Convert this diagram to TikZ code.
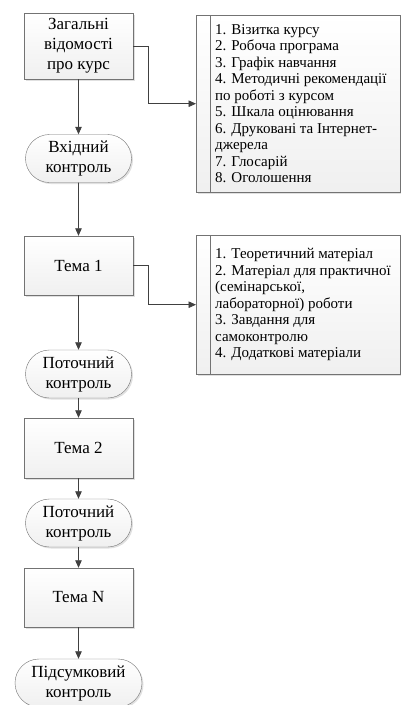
\documentclass[tikz,border=0pt]{standalone}
\usepackage{fontspec}
\setmainfont{Liberation Serif}
\usetikzlibrary{arrows.meta,shapes.misc,shadows}

\begin{document}
\begin{tikzpicture}[x=1pt,y=-1pt,
    box/.style={font=\fontsize{17}{20}\selectfont, align=center, draw=black!55,
      top color=white, bottom color=black!6,
      drop shadow={shadow xshift=1.5pt,shadow yshift=-1.5pt,opacity=.2,fill=black!60}},
    stage/.style={box, rectangle, minimum width=109pt},
    check/.style={box, rounded rectangle, minimum width=108pt, minimum height=48pt, inner sep=1pt},
    list/.style={box, rectangle, minimum width=204pt, anchor=north west},
    listtext/.style={anchor=west, align=left, font=\fontsize{15}{16.5}\selectfont, inner sep=0pt},
    flow/.style={draw=black!75, line width=.8pt, -{Triangle[length=7.5pt,width=6.5pt]}}]
    \useasboundingbox (0,0) rectangle (400,705);

    \node[stage, minimum height=66pt] (z) at (78.5,46) {Загальні\\відомості\\про курс};
    \node[check] (k0) at (78.5,158.5) {Вхідний\\контроль};
    \node[stage, minimum height=59pt] (t1) at (78.5,265.5) {Тема 1};
    \node[check] (k1) at (78.5,374) {Поточний\\контроль};
    \node[stage, minimum height=60pt] (t2) at (78.5,448) {Тема 2};
    \node[check] (k2) at (78.5,523) {Поточний\\контроль};
    \node[stage, minimum height=59pt] (tn) at (78.5,597.5) {Тема N};
    \node[check, minimum width=129pt] (kf) at (78.5,683) {Підсумковий\\контроль};

    % lists on the right
    \node[list, minimum height=177pt] (l1) at (196,15) {};
    \node[list, minimum height=139pt] (l2) at (196,235) {};
    \draw[black!55] ([xshift=14pt]l1.north west) -- ([xshift=14pt]l1.south west)
                    ([xshift=14pt]l2.north west) -- ([xshift=14pt]l2.south west);
    \node[listtext] (l1t) at ([xshift=19pt]l1.west) {1. Візитка курсу\\2. Робоча програма\\3. Графік навчання\\4. Методичні рекомендації\\по роботі з курсом\\5. Шкала оцінювання\\6. Друковані та Інтернет-\\джерела\\7. Глосарій\\8. Оголошення};
    \node[listtext] (l2t) at ([xshift=19pt]l2.west) {1. Теоретичний матеріал\\2. Матеріал для практичної\\(семінарської,\\лабораторної) роботи\\3. Завдання для\\самоконтролю\\4. Додаткові матеріали};

    \draw[flow] (z) -- (k0);
    \draw[flow] (k0) -- (t1);
    \draw[flow] (t1) -- (k1);
    \draw[flow] (k1) -- (t2);
    \draw[flow] (t2) -- (k2);
    \draw[flow] (k2) -- (tn);
    \draw[flow] (tn) -- (kf);
    \draw[flow] (z.east) -- ++(15,0) |- (l1.west);
    \draw[flow] (t1.east) -- ++(15,0) |- (l2.west);
\end{tikzpicture}
\end{document}
